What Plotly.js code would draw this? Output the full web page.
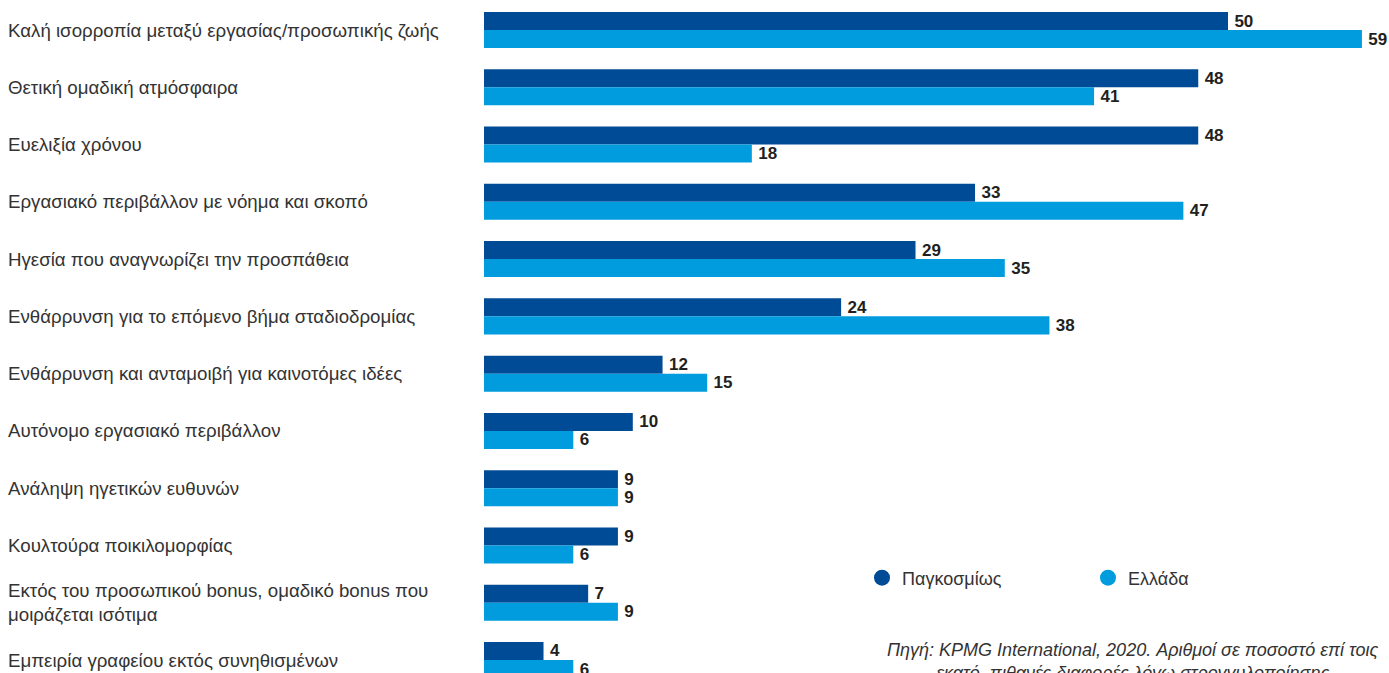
<!DOCTYPE html>
<html>
<head>
<meta charset="utf-8">
<script src="https://cdn.plot.ly/plotly-3.0.1.min.js"></script>
<style>html,body{margin:0;padding:0;background:#fff;}#chart{width:1389px;height:673px;}</style>
</head>
<body>
<div id="chart"></div>
<script>
var categories = [
  "Καλή ισορροπία μεταξύ εργασίας/προσωπικής ζωής",
  "Θετική ομαδική ατμόσφαιρα",
  "Ευελιξία χρόνου",
  "Εργασιακό περιβάλλον με νόημα και σκοπό",
  "Ηγεσία που αναγνωρίζει την προσπάθεια",
  "Ενθάρρυνση για το επόμενο βήμα σταδιοδρομίας",
  "Ενθάρρυνση και ανταμοιβή για καινοτόμες ιδέες",
  "Αυτόνομο εργασιακό περιβάλλον",
  "Ανάληψη ηγετικών ευθυνών",
  "Κουλτούρα ποικιλομορφίας",
  "Εκτός του προσωπικού bonus, ομαδικό bonus που<br>μοιράζεται ισότιμα",
  "Εμπειρία γραφείου εκτός συνηθισμένων"
];
var globalValues = [50, 48, 48, 33, 29, 24, 12, 10, 9, 9, 7, 4];
var greeceValues = [59, 41, 18, 47, 35, 38, 15, 6, 9, 6, 9, 6];
var seriesNames = ["Παγκοσμίως", "Ελλάδα"];
var sourceText = "Πηγή: KPMG International, 2020. Αριθμοί σε ποσοστό επί τοις<br>εκατό, πιθανές διαφορές λόγω στρογγυλοποίησης";

var darkBlue = "#004B95";
var lightBlue = "#009CDE";
var labelFont = "Liberation Sans, Arial, sans-serif";

function barTrace(name, vals, color) {
  return {
    type: "bar", orientation: "h", name: name,
    y: categories, x: vals,
    marker: {color: color},
    text: vals.map(function (v) { return "\u2009" + v; }), textposition: "outside",
    textfont: {family: labelFont, size: 17, color: "#231F20", weight: "bold"},
    constraintext: "none", cliponaxis: false,
    showlegend: false, hoverinfo: "x+y"
  };
}
function legendTrace(name, color) {
  return {
    type: "scatter", mode: "markers", name: name,
    x: [null], y: [null],
    marker: {color: color, size: 16, symbol: "circle"},
    showlegend: true, hoverinfo: "skip"
  };
}

var data = [
  barTrace(seriesNames[0], globalValues, darkBlue),
  barTrace(seriesNames[1], greeceValues, lightBlue),
  legendTrace(seriesNames[0], darkBlue),
  legendTrace(seriesNames[1], lightBlue)
];

var annotations = categories.map(function (c) {
  return {
    xref: "paper", yref: "y", x: -478 / 905, y: c,
    xanchor: "left", yanchor: "middle", align: "left",
    text: c, showarrow: false,
    font: {family: labelFont, size: 18.7, color: "#333333"}
  };
});
annotations.push({
  xref: "paper", yref: "paper", x: (885 - 484) / 905, y: 1 - 638 / 673,
  xanchor: "left", yanchor: "top", align: "center",
  text: sourceText, showarrow: false,
  font: {family: labelFont, size: 18, color: "#333333", style: "italic"}
});

var layout = {
  width: 1389, height: 673,
  margin: {l: 484, r: 0, t: 0, b: 0, pad: 0},
  paper_bgcolor: "#ffffff", plot_bgcolor: "#ffffff",
  barmode: "group", bargap: 0.371, bargroupgap: 0,
  xaxis: {range: [0, 905 / 14.88], showgrid: false, zeroline: false, showticklabels: false, showline: false, ticks: ""},
  yaxis: {type: "category", categoryorder: "array", categoryarray: categories, range: [11.227, -0.524], showgrid: false, zeroline: false, showticklabels: false, showline: false, ticks: ""},
  showlegend: true,
  legend: {
    orientation: "h", x: (862 - 484) / 905, y: 1 - 578 / 673,
    xanchor: "left", yanchor: "middle",
    entrywidth: 181, entrywidthmode: "pixels",
    font: {family: labelFont, size: 18, color: "#333333"},
    bgcolor: "rgba(0,0,0,0)", traceorder: "normal"
  },
  annotations: annotations
};

Plotly.newPlot("chart", data, layout, {displayModeBar: false, staticPlot: true});
</script>
</body>
</html>
